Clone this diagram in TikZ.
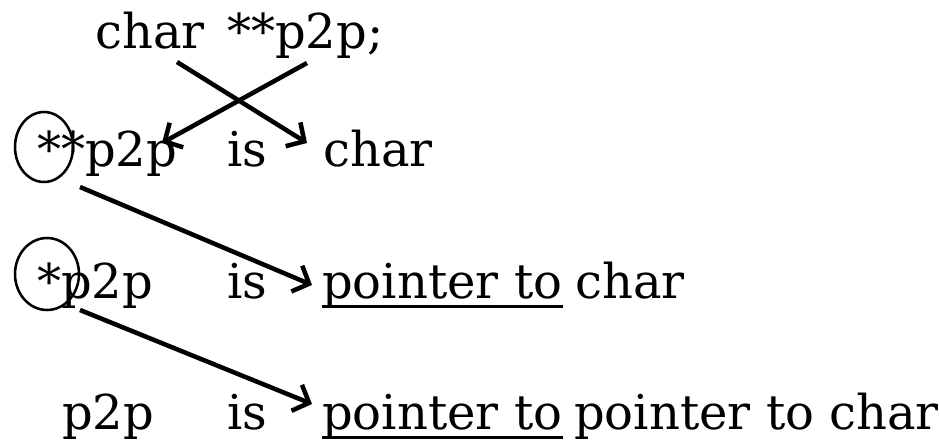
\documentclass[tikz,border=0pt]{standalone}
\usepackage{fontspec}
\setmainfont{DejaVu Serif}
\usetikzlibrary{positioning,arrows,arrows.meta}
\tikzset{
  word/.style={inner sep=0pt, anchor=base west, font=\fontsize{36}{42}\selectfont},
  pointer/.style={line width=3.4pt, -{Straight Barb[length=10pt,width=21pt]}},
  ring/.style={line width=1.9pt},
  uline/.style={line width=2.2pt}
}

\begin{document}
\begin{tikzpicture}[x=0.75pt, y=-0.75pt]
    \useasboundingbox (0,0) rectangle (940,441);

    % declaration
    \node[word] (d1) at (95,49) {char};
    \node[word] (d2) at (227,49) {**p2p;};

    % first reading
    \node[word] (a1) at (37,167) {**p2p};
    \node[word] (a2) at (227,167) {is};
    \node[word] (a3) at (323,167) {char};

    % second reading
    \node[word] (b1) at (37,299) {*p2p};
    \node[word] (b2) at (227,299) {is};
    \node[word] (b3) at (322,299) {pointer to};
    \node[word] (b4) at (575,299) {char};

    % third reading
    \node[word] (c1) at (62,430) {p2p};
    \node[word] (c2) at (227,430) {is};
    \node[word] (c3) at (322,430) {pointer to};
    \node[word] (c4) at (574,430) {pointer to char};

    \draw[uline] ([yshift=2pt]b3.south west) -- ([yshift=2pt]b3.south east);
    \draw[uline] ([yshift=2pt]c3.south west) -- ([yshift=2pt]c3.south east);

    \draw[ring] (44,147) ellipse (29 and 35);
    \draw[ring] (47,274) ellipse (32 and 36);

    \coordinate (s1) at (177,62);  \coordinate (e1) at (307,143);
    \coordinate (s2) at (307,63);  \coordinate (e2) at (162,143);
    \coordinate (s3) at (80,187);  \coordinate (e3) at (312,285);
    \coordinate (s4) at (80,310);  \coordinate (e4) at (312,404);

    \draw[pointer] (s1) -- (e1);
    \draw[pointer] (s2) -- (e2);
    \draw[pointer] (s3) -- (e3);
    \draw[pointer] (s4) -- (e4);
\end{tikzpicture}
\end{document}
